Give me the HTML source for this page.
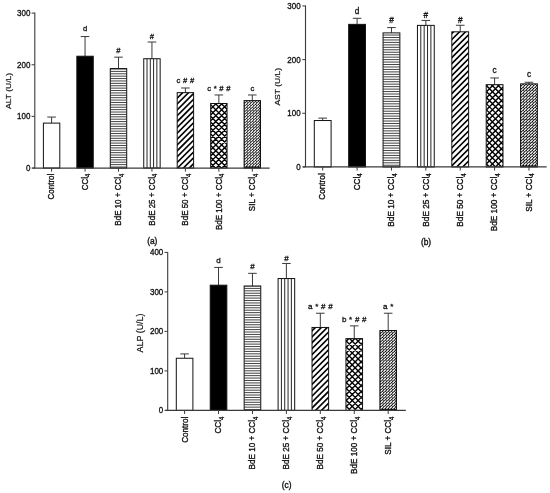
<!DOCTYPE html>
<html lang="en"><head><meta charset="utf-8"><title>Figure</title>
<style>
html,body{margin:0;padding:0;background:#fff;}
body{width:550px;height:493px;overflow:hidden;}
svg{display:block;}
text{font-family:"Liberation Sans",Arial,sans-serif;fill:#111;stroke:#111;stroke-width:0.35px;}
</style></head><body>
<svg width="550" height="493" viewBox="0 0 550 493">
<rect width="550" height="493" fill="#fff"/>

<g id="chart-a">
<path d="M51.6 123.11V117.07M47.3 117.07H55.9" stroke="#3a3a3a" stroke-width="1" fill="none"/>
<rect x="43.4" y="123.11" width="16.4" height="44.94" fill="white" stroke="#111" stroke-width="1"/>
<path d="M51.6 168.05V171.65" stroke="#3a3a3a" stroke-width="1"/>
<text transform="translate(54.3 173.75) rotate(-90) scale(0.86 1)" font-size="9.3" text-anchor="end">Control</text>
<path d="M85.05 56.23V36.55M80.75 36.55H89.35" stroke="#3a3a3a" stroke-width="1" fill="none"/>
<rect x="76.85" y="56.23" width="16.4" height="111.82" fill="black" stroke="#111" stroke-width="1"/>
<text transform="translate(85.05 31.25)" font-size="7.7" text-anchor="middle" xml:space="preserve" style="word-spacing:0.5px;stroke-width:0.3px">d</text>
<path d="M85.05 168.05V171.65" stroke="#3a3a3a" stroke-width="1"/>
<text transform="translate(87.75 173.75) rotate(-90) scale(0.86 1)" font-size="9.3" text-anchor="end">CCl<tspan dy="2.6" font-size="6.9">4</tspan></text>
<path d="M118.5 68.57V57.16M114.2 57.16H122.8" stroke="#3a3a3a" stroke-width="1" fill="none"/>
<clipPath id="c1"><rect x="110.3" y="68.57" width="16.4" height="99.48"/></clipPath>
<g clip-path="url(#c1)"><path d="M110.3 69.01H126.7M110.3 71.4H126.7M110.3 73.79H126.7M110.3 76.18H126.7M110.3 78.57H126.7M110.3 80.96H126.7M110.3 83.35H126.7M110.3 85.74H126.7M110.3 88.13H126.7M110.3 90.52H126.7M110.3 92.91H126.7M110.3 95.3H126.7M110.3 97.69H126.7M110.3 100.08H126.7M110.3 102.47H126.7M110.3 104.86H126.7M110.3 107.25H126.7M110.3 109.64H126.7M110.3 112.03H126.7M110.3 114.42H126.7M110.3 116.81H126.7M110.3 119.2H126.7M110.3 121.59H126.7M110.3 123.98H126.7M110.3 126.37H126.7M110.3 128.76H126.7M110.3 131.15H126.7M110.3 133.54H126.7M110.3 135.93H126.7M110.3 138.32H126.7M110.3 140.71H126.7M110.3 143.1H126.7M110.3 145.49H126.7M110.3 147.88H126.7M110.3 150.27H126.7M110.3 152.66H126.7M110.3 155.05H126.7M110.3 157.44H126.7M110.3 159.83H126.7M110.3 162.22H126.7M110.3 164.61H126.7M110.3 167H126.7" stroke="#222" stroke-width="0.85" fill="none"/></g>
<rect x="110.3" y="68.57" width="16.4" height="99.48" fill="none" stroke="#111" stroke-width="1"/>
<text transform="translate(118.5 53.06)" font-size="7.7" text-anchor="middle" xml:space="preserve" style="word-spacing:0.5px;stroke-width:0.3px">#</text>
<path d="M118.5 168.05V171.65" stroke="#3a3a3a" stroke-width="1"/>
<text transform="translate(121.2 173.75) rotate(-90) scale(0.86 1)" font-size="9.3" text-anchor="end">BdE 10 + CCl<tspan dy="2.6" font-size="6.9">4</tspan></text>
<path d="M151.95 58.71V42.02M147.65 42.02H156.25" stroke="#3a3a3a" stroke-width="1" fill="none"/>
<clipPath id="c2"><rect x="143.75" y="58.71" width="16.4" height="109.34"/></clipPath>
<g clip-path="url(#c2)"><path d="M147.03 58.71V168.05M150.31 58.71V168.05M153.59 58.71V168.05M156.87 58.71V168.05" stroke="#1a1a1a" stroke-width="0.95" fill="none"/></g>
<rect x="143.75" y="58.71" width="16.4" height="109.34" fill="none" stroke="#111" stroke-width="1"/>
<text transform="translate(151.95 39.32)" font-size="7.7" text-anchor="middle" xml:space="preserve" style="word-spacing:0.5px;stroke-width:0.3px">#</text>
<path d="M151.95 168.05V171.65" stroke="#3a3a3a" stroke-width="1"/>
<text transform="translate(154.65 173.75) rotate(-90) scale(0.86 1)" font-size="9.3" text-anchor="end">BdE 25 + CCl<tspan dy="2.6" font-size="6.9">4</tspan></text>
<path d="M185.4 92.64V87.99M181.1 87.99H189.7" stroke="#3a3a3a" stroke-width="1" fill="none"/>
<clipPath id="c3"><rect x="177.2" y="92.64" width="16.4" height="75.41"/></clipPath>
<g clip-path="url(#c3)"><path d="M176.2 93.3L194.6 74.9M176.2 99.15L194.6 80.75M176.2 105L194.6 86.6M176.2 110.85L194.6 92.45M176.2 116.7L194.6 98.3M176.2 122.55L194.6 104.15M176.2 128.4L194.6 110M176.2 134.25L194.6 115.85M176.2 140.1L194.6 121.7M176.2 145.95L194.6 127.55M176.2 151.8L194.6 133.4M176.2 157.65L194.6 139.25M176.2 163.5L194.6 145.1M176.2 169.35L194.6 150.95M176.2 175.2L194.6 156.8M176.2 181.05L194.6 162.65M176.2 186.9L194.6 168.5" stroke="#000" stroke-width="1.6" fill="none"/></g>
<rect x="177.2" y="92.64" width="16.4" height="75.41" fill="none" stroke="#111" stroke-width="1"/>
<text transform="translate(185.4 83.09)" font-size="7.7" text-anchor="middle" xml:space="preserve" style="word-spacing:0.5px;stroke-width:0.3px">c # #</text>
<path d="M185.4 168.05V171.65" stroke="#3a3a3a" stroke-width="1"/>
<text transform="translate(188.1 173.75) rotate(-90) scale(0.86 1)" font-size="9.3" text-anchor="end">BdE 50 + CCl<tspan dy="2.6" font-size="6.9">4</tspan></text>
<path d="M218.85 103.49V94.97M214.55 94.97H223.15" stroke="#3a3a3a" stroke-width="1" fill="none"/>
<clipPath id="c4"><rect x="210.65" y="103.49" width="16.4" height="64.56"/></clipPath>
<g clip-path="url(#c4)"><path d="M209.65 104.25L228.05 85.85M209.65 110.1L228.05 91.7M209.65 115.95L228.05 97.55M209.65 121.8L228.05 103.4M209.65 127.65L228.05 109.25M209.65 133.5L228.05 115.1M209.65 139.35L228.05 120.95M209.65 145.2L228.05 126.8M209.65 151.05L228.05 132.65M209.65 156.9L228.05 138.5M209.65 162.75L228.05 144.35M209.65 168.6L228.05 150.2M209.65 174.45L228.05 156.05M209.65 180.3L228.05 161.9M209.65 186.15L228.05 167.75M209.65 168L228.05 186.4M209.65 162.15L228.05 180.55M209.65 156.3L228.05 174.7M209.65 150.45L228.05 168.85M209.65 144.6L228.05 163M209.65 138.75L228.05 157.15M209.65 132.9L228.05 151.3M209.65 127.05L228.05 145.45M209.65 121.2L228.05 139.6M209.65 115.35L228.05 133.75M209.65 109.5L228.05 127.9M209.65 103.65L228.05 122.05M209.65 97.8L228.05 116.2M209.65 91.95L228.05 110.35M209.65 86.1L228.05 104.5M209.65 80.25L228.05 98.65" stroke="#000" stroke-width="1.4" fill="none"/></g>
<rect x="210.65" y="103.49" width="16.4" height="64.56" fill="none" stroke="#111" stroke-width="1"/>
<text transform="translate(218.85 91.47)" font-size="7.7" text-anchor="middle" xml:space="preserve" style="word-spacing:0.5px;stroke-width:0.3px">c * # #</text>
<path d="M218.85 168.05V171.65" stroke="#3a3a3a" stroke-width="1"/>
<text transform="translate(221.55 173.75) rotate(-90) scale(0.86 1)" font-size="9.3" text-anchor="end">BdE 100 + CCl<tspan dy="2.6" font-size="6.9">4</tspan></text>
<path d="M252.3 100.6V94.97M248 94.97H256.6" stroke="#3a3a3a" stroke-width="1" fill="none"/>
<clipPath id="c5"><rect x="244.1" y="100.6" width="16.4" height="67.45"/></clipPath>
<g clip-path="url(#c5)"><rect x="244.1" y="100.6" width="16.4" height="67.45" fill="#111"/><path d="M245.05 166.05l1.7 -1.7M248 166.05l1.7 -1.7M250.95 166.05l1.7 -1.7M253.9 166.05l1.7 -1.7M256.85 166.05l1.7 -1.7M259.8 166.05l1.7 -1.7M245.05 163.25l1.7 -1.7M248 163.25l1.7 -1.7M250.95 163.25l1.7 -1.7M253.9 163.25l1.7 -1.7M256.85 163.25l1.7 -1.7M259.8 163.25l1.7 -1.7M245.05 160.45l1.7 -1.7M248 160.45l1.7 -1.7M250.95 160.45l1.7 -1.7M253.9 160.45l1.7 -1.7M256.85 160.45l1.7 -1.7M259.8 160.45l1.7 -1.7M245.05 157.65l1.7 -1.7M248 157.65l1.7 -1.7M250.95 157.65l1.7 -1.7M253.9 157.65l1.7 -1.7M256.85 157.65l1.7 -1.7M259.8 157.65l1.7 -1.7M245.05 154.85l1.7 -1.7M248 154.85l1.7 -1.7M250.95 154.85l1.7 -1.7M253.9 154.85l1.7 -1.7M256.85 154.85l1.7 -1.7M259.8 154.85l1.7 -1.7M245.05 152.05l1.7 -1.7M248 152.05l1.7 -1.7M250.95 152.05l1.7 -1.7M253.9 152.05l1.7 -1.7M256.85 152.05l1.7 -1.7M259.8 152.05l1.7 -1.7M245.05 149.25l1.7 -1.7M248 149.25l1.7 -1.7M250.95 149.25l1.7 -1.7M253.9 149.25l1.7 -1.7M256.85 149.25l1.7 -1.7M259.8 149.25l1.7 -1.7M245.05 146.45l1.7 -1.7M248 146.45l1.7 -1.7M250.95 146.45l1.7 -1.7M253.9 146.45l1.7 -1.7M256.85 146.45l1.7 -1.7M259.8 146.45l1.7 -1.7M245.05 143.65l1.7 -1.7M248 143.65l1.7 -1.7M250.95 143.65l1.7 -1.7M253.9 143.65l1.7 -1.7M256.85 143.65l1.7 -1.7M259.8 143.65l1.7 -1.7M245.05 140.85l1.7 -1.7M248 140.85l1.7 -1.7M250.95 140.85l1.7 -1.7M253.9 140.85l1.7 -1.7M256.85 140.85l1.7 -1.7M259.8 140.85l1.7 -1.7M245.05 138.05l1.7 -1.7M248 138.05l1.7 -1.7M250.95 138.05l1.7 -1.7M253.9 138.05l1.7 -1.7M256.85 138.05l1.7 -1.7M259.8 138.05l1.7 -1.7M245.05 135.25l1.7 -1.7M248 135.25l1.7 -1.7M250.95 135.25l1.7 -1.7M253.9 135.25l1.7 -1.7M256.85 135.25l1.7 -1.7M259.8 135.25l1.7 -1.7M245.05 132.45l1.7 -1.7M248 132.45l1.7 -1.7M250.95 132.45l1.7 -1.7M253.9 132.45l1.7 -1.7M256.85 132.45l1.7 -1.7M259.8 132.45l1.7 -1.7M245.05 129.65l1.7 -1.7M248 129.65l1.7 -1.7M250.95 129.65l1.7 -1.7M253.9 129.65l1.7 -1.7M256.85 129.65l1.7 -1.7M259.8 129.65l1.7 -1.7M245.05 126.85l1.7 -1.7M248 126.85l1.7 -1.7M250.95 126.85l1.7 -1.7M253.9 126.85l1.7 -1.7M256.85 126.85l1.7 -1.7M259.8 126.85l1.7 -1.7M245.05 124.05l1.7 -1.7M248 124.05l1.7 -1.7M250.95 124.05l1.7 -1.7M253.9 124.05l1.7 -1.7M256.85 124.05l1.7 -1.7M259.8 124.05l1.7 -1.7M245.05 121.25l1.7 -1.7M248 121.25l1.7 -1.7M250.95 121.25l1.7 -1.7M253.9 121.25l1.7 -1.7M256.85 121.25l1.7 -1.7M259.8 121.25l1.7 -1.7M245.05 118.45l1.7 -1.7M248 118.45l1.7 -1.7M250.95 118.45l1.7 -1.7M253.9 118.45l1.7 -1.7M256.85 118.45l1.7 -1.7M259.8 118.45l1.7 -1.7M245.05 115.65l1.7 -1.7M248 115.65l1.7 -1.7M250.95 115.65l1.7 -1.7M253.9 115.65l1.7 -1.7M256.85 115.65l1.7 -1.7M259.8 115.65l1.7 -1.7M245.05 112.85l1.7 -1.7M248 112.85l1.7 -1.7M250.95 112.85l1.7 -1.7M253.9 112.85l1.7 -1.7M256.85 112.85l1.7 -1.7M259.8 112.85l1.7 -1.7M245.05 110.05l1.7 -1.7M248 110.05l1.7 -1.7M250.95 110.05l1.7 -1.7M253.9 110.05l1.7 -1.7M256.85 110.05l1.7 -1.7M259.8 110.05l1.7 -1.7M245.05 107.25l1.7 -1.7M248 107.25l1.7 -1.7M250.95 107.25l1.7 -1.7M253.9 107.25l1.7 -1.7M256.85 107.25l1.7 -1.7M259.8 107.25l1.7 -1.7M245.05 104.45l1.7 -1.7M248 104.45l1.7 -1.7M250.95 104.45l1.7 -1.7M253.9 104.45l1.7 -1.7M256.85 104.45l1.7 -1.7M259.8 104.45l1.7 -1.7M245.05 101.65l1.7 -1.7M248 101.65l1.7 -1.7M250.95 101.65l1.7 -1.7M253.9 101.65l1.7 -1.7M256.85 101.65l1.7 -1.7M259.8 101.65l1.7 -1.7" stroke="#fff" stroke-width="1.25" stroke-linecap="round" fill="none"/></g>
<rect x="244.1" y="100.6" width="16.4" height="67.45" fill="none" stroke="#111" stroke-width="1"/>
<text transform="translate(252.3 90.67)" font-size="7.7" text-anchor="middle" xml:space="preserve" style="word-spacing:0.5px;stroke-width:0.3px">c</text>
<path d="M252.3 168.05V171.65" stroke="#3a3a3a" stroke-width="1"/>
<text transform="translate(255 173.75) rotate(-90) scale(0.86 1)" font-size="9.3" text-anchor="end">SIL + CCl<tspan dy="2.6" font-size="6.9">4</tspan></text>
<path d="M34.8 12.6V168.05" stroke="#3a3a3a" stroke-width="1.1" fill="none"/>
<path d="M32.4 168.05H269.6" stroke="#3a3a3a" stroke-width="1.3" fill="none"/>
<path d="M31.6 168.05H34.8" stroke="#3a3a3a" stroke-width="1"/>
<text transform="translate(30.4 171.05) scale(0.86 1)" font-size="9.3" text-anchor="end">0</text>
<path d="M31.6 116.4H34.8" stroke="#3a3a3a" stroke-width="1"/>
<text transform="translate(30.4 119.4) scale(0.86 1)" font-size="9.3" text-anchor="end">100</text>
<path d="M31.6 64.75H34.8" stroke="#3a3a3a" stroke-width="1"/>
<text transform="translate(30.4 67.75) scale(0.86 1)" font-size="9.3" text-anchor="end">200</text>
<path d="M31.6 13.1H34.8" stroke="#3a3a3a" stroke-width="1"/>
<text transform="translate(30.4 16.1) scale(0.86 1)" font-size="9.3" text-anchor="end">300</text>
<text transform="translate(10.9 90.88) rotate(-90) scale(1.065 1)" font-size="8.0" text-anchor="middle" style="stroke-width:0.2px">ALT (U/L)</text>
<text transform="translate(152.3 243.7)" font-size="8.4" text-anchor="middle">(a)</text>
</g>
<g id="chart-b">
<path d="M322.7 120.53V118.11M318.4 118.11H327" stroke="#3a3a3a" stroke-width="1" fill="none"/>
<rect x="314.3" y="120.53" width="16.8" height="46.42" fill="white" stroke="#111" stroke-width="1"/>
<path d="M322.7 166.95V170.55" stroke="#3a3a3a" stroke-width="1"/>
<text transform="translate(325.4 173.25) rotate(-90) scale(0.885 1)" font-size="9.3" text-anchor="end">Control</text>
<path d="M357.08 24.36V18.29M352.78 18.29H361.38" stroke="#3a3a3a" stroke-width="1" fill="none"/>
<rect x="348.68" y="24.36" width="16.8" height="142.59" fill="black" stroke="#111" stroke-width="1"/>
<text transform="translate(357.08 13.99)" font-size="8.2" text-anchor="middle" xml:space="preserve" style="word-spacing:0.5px;stroke-width:0.3px">d</text>
<path d="M357.08 166.95V170.55" stroke="#3a3a3a" stroke-width="1"/>
<text transform="translate(359.78 173.25) rotate(-90) scale(0.885 1)" font-size="9.3" text-anchor="end">CCl<tspan dy="2.6" font-size="6.9">4</tspan></text>
<path d="M391.46 32.89V27.58M387.16 27.58H395.76" stroke="#3a3a3a" stroke-width="1" fill="none"/>
<clipPath id="c6"><rect x="383.06" y="32.89" width="16.8" height="134.06"/></clipPath>
<g clip-path="url(#c6)"><path d="M383.06 35.04H399.86M383.06 37.5H399.86M383.06 39.96H399.86M383.06 42.41H399.86M383.06 44.87H399.86M383.06 47.33H399.86M383.06 49.78H399.86M383.06 52.24H399.86M383.06 54.7H399.86M383.06 57.16H399.86M383.06 59.61H399.86M383.06 62.07H399.86M383.06 64.53H399.86M383.06 66.98H399.86M383.06 69.44H399.86M383.06 71.9H399.86M383.06 74.35H399.86M383.06 76.81H399.86M383.06 79.27H399.86M383.06 81.72H399.86M383.06 84.18H399.86M383.06 86.64H399.86M383.06 89.1H399.86M383.06 91.55H399.86M383.06 94.01H399.86M383.06 96.47H399.86M383.06 98.92H399.86M383.06 101.38H399.86M383.06 103.84H399.86M383.06 106.29H399.86M383.06 108.75H399.86M383.06 111.21H399.86M383.06 113.66H399.86M383.06 116.12H399.86M383.06 118.58H399.86M383.06 121.04H399.86M383.06 123.49H399.86M383.06 125.95H399.86M383.06 128.41H399.86M383.06 130.86H399.86M383.06 133.32H399.86M383.06 135.78H399.86M383.06 138.23H399.86M383.06 140.69H399.86M383.06 143.15H399.86M383.06 145.6H399.86M383.06 148.06H399.86M383.06 150.52H399.86M383.06 152.98H399.86M383.06 155.43H399.86M383.06 157.89H399.86M383.06 160.35H399.86M383.06 162.8H399.86M383.06 165.26H399.86" stroke="#222" stroke-width="0.85" fill="none"/></g>
<rect x="383.06" y="32.89" width="16.8" height="134.06" fill="none" stroke="#111" stroke-width="1"/>
<text transform="translate(391.46 23.28)" font-size="8.2" text-anchor="middle" xml:space="preserve" style="word-spacing:0.5px;stroke-width:0.3px">#</text>
<path d="M391.46 166.95V170.55" stroke="#3a3a3a" stroke-width="1"/>
<text transform="translate(394.16 173.25) rotate(-90) scale(0.885 1)" font-size="9.3" text-anchor="end">BdE 10 + CCl<tspan dy="2.6" font-size="6.9">4</tspan></text>
<path d="M425.84 25.38V20.44M421.54 20.44H430.14" stroke="#3a3a3a" stroke-width="1" fill="none"/>
<clipPath id="c7"><rect x="417.44" y="25.38" width="16.8" height="141.57"/></clipPath>
<g clip-path="url(#c7)"><path d="M420.8 25.38V166.95M424.16 25.38V166.95M427.52 25.38V166.95M430.88 25.38V166.95" stroke="#1a1a1a" stroke-width="0.95" fill="none"/></g>
<rect x="417.44" y="25.38" width="16.8" height="141.57" fill="none" stroke="#111" stroke-width="1"/>
<text transform="translate(425.84 17.94)" font-size="8.2" text-anchor="middle" xml:space="preserve" style="word-spacing:0.5px;stroke-width:0.3px">#</text>
<path d="M425.84 166.95V170.55" stroke="#3a3a3a" stroke-width="1"/>
<text transform="translate(428.54 173.25) rotate(-90) scale(0.885 1)" font-size="9.3" text-anchor="end">BdE 25 + CCl<tspan dy="2.6" font-size="6.9">4</tspan></text>
<path d="M460.22 31.82V25.27M455.92 25.27H464.52" stroke="#3a3a3a" stroke-width="1" fill="none"/>
<clipPath id="c8"><rect x="451.82" y="31.82" width="16.8" height="135.13"/></clipPath>
<g clip-path="url(#c8)"><path d="M450.82 28.51L469.62 9.71M450.82 34.52L469.62 15.72M450.82 40.54L469.62 21.74M450.82 46.55L469.62 27.75M450.82 52.56L469.62 33.76M450.82 58.58L469.62 39.78M450.82 64.59L469.62 45.79M450.82 70.6L469.62 51.8M450.82 76.62L469.62 57.82M450.82 82.63L469.62 63.83M450.82 88.65L469.62 69.85M450.82 94.66L469.62 75.86M450.82 100.67L469.62 81.87M450.82 106.69L469.62 87.89M450.82 112.7L469.62 93.9M450.82 118.71L469.62 99.91M450.82 124.73L469.62 105.93M450.82 130.74L469.62 111.94M450.82 136.76L469.62 117.96M450.82 142.77L469.62 123.97M450.82 148.78L469.62 129.98M450.82 154.8L469.62 136M450.82 160.81L469.62 142.01M450.82 166.83L469.62 148.03M450.82 172.84L469.62 154.04M450.82 178.85L469.62 160.05M450.82 184.87L469.62 166.07" stroke="#000" stroke-width="1.6" fill="none"/></g>
<rect x="451.82" y="31.82" width="16.8" height="135.13" fill="none" stroke="#111" stroke-width="1"/>
<text transform="translate(460.22 22.77)" font-size="8.2" text-anchor="middle" xml:space="preserve" style="word-spacing:0.5px;stroke-width:0.3px">#</text>
<path d="M460.22 166.95V170.55" stroke="#3a3a3a" stroke-width="1"/>
<text transform="translate(462.92 173.25) rotate(-90) scale(0.885 1)" font-size="9.3" text-anchor="end">BdE 50 + CCl<tspan dy="2.6" font-size="6.9">4</tspan></text>
<path d="M494.6 84.68V77.97M490.3 77.97H498.9" stroke="#3a3a3a" stroke-width="1" fill="none"/>
<clipPath id="c9"><rect x="486.2" y="84.68" width="16.8" height="82.27"/></clipPath>
<g clip-path="url(#c9)"><path d="M485.2 80.95L504 62.15M485.2 86.97L504 68.17M485.2 92.98L504 74.18M485.2 98.99L504 80.19M485.2 105.01L504 86.21M485.2 111.02L504 92.22M485.2 117.03L504 98.23M485.2 123.05L504 104.25M485.2 129.06L504 110.26M485.2 135.08L504 116.28M485.2 141.09L504 122.29M485.2 147.1L504 128.3M485.2 153.12L504 134.32M485.2 159.13L504 140.33M485.2 165.15L504 146.35M485.2 171.16L504 152.36M485.2 177.17L504 158.37M485.2 183.19L504 164.39M485.2 189.2L504 170.4M485.2 168.72L504 187.52M485.2 162.7L504 181.5M485.2 156.69L504 175.49M485.2 150.68L504 169.48M485.2 144.66L504 163.46M485.2 138.65L504 157.45M485.2 132.63L504 151.43M485.2 126.62L504 145.42M485.2 120.61L504 139.41M485.2 114.59L504 133.39M485.2 108.58L504 127.38M485.2 102.57L504 121.37M485.2 96.55L504 115.35M485.2 90.54L504 109.34M485.2 84.52L504 103.32M485.2 78.51L504 97.31M485.2 72.5L504 91.3M485.2 66.48L504 85.28" stroke="#000" stroke-width="1.4" fill="none"/></g>
<rect x="486.2" y="84.68" width="16.8" height="82.27" fill="none" stroke="#111" stroke-width="1"/>
<text transform="translate(494.6 72.67)" font-size="8.2" text-anchor="middle" xml:space="preserve" style="word-spacing:0.5px;stroke-width:0.3px">c</text>
<path d="M494.6 166.95V170.55" stroke="#3a3a3a" stroke-width="1"/>
<text transform="translate(497.3 173.25) rotate(-90) scale(0.885 1)" font-size="9.3" text-anchor="end">BdE 100 + CCl<tspan dy="2.6" font-size="6.9">4</tspan></text>
<path d="M528.98 83.87V82.26M524.68 82.26H533.28" stroke="#3a3a3a" stroke-width="1" fill="none"/>
<clipPath id="c10"><rect x="520.58" y="83.87" width="16.8" height="83.08"/></clipPath>
<g clip-path="url(#c10)"><rect x="520.58" y="83.87" width="16.8" height="83.08" fill="#111"/><path d="M521.53 164.95l1.7 -1.7M524.56 164.95l1.7 -1.7M527.6 164.95l1.7 -1.7M530.63 164.95l1.7 -1.7M533.66 164.95l1.7 -1.7M536.69 164.95l1.7 -1.7M521.53 162.07l1.7 -1.7M524.56 162.07l1.7 -1.7M527.6 162.07l1.7 -1.7M530.63 162.07l1.7 -1.7M533.66 162.07l1.7 -1.7M536.69 162.07l1.7 -1.7M521.53 159.19l1.7 -1.7M524.56 159.19l1.7 -1.7M527.6 159.19l1.7 -1.7M530.63 159.19l1.7 -1.7M533.66 159.19l1.7 -1.7M536.69 159.19l1.7 -1.7M521.53 156.31l1.7 -1.7M524.56 156.31l1.7 -1.7M527.6 156.31l1.7 -1.7M530.63 156.31l1.7 -1.7M533.66 156.31l1.7 -1.7M536.69 156.31l1.7 -1.7M521.53 153.44l1.7 -1.7M524.56 153.44l1.7 -1.7M527.6 153.44l1.7 -1.7M530.63 153.44l1.7 -1.7M533.66 153.44l1.7 -1.7M536.69 153.44l1.7 -1.7M521.53 150.56l1.7 -1.7M524.56 150.56l1.7 -1.7M527.6 150.56l1.7 -1.7M530.63 150.56l1.7 -1.7M533.66 150.56l1.7 -1.7M536.69 150.56l1.7 -1.7M521.53 147.68l1.7 -1.7M524.56 147.68l1.7 -1.7M527.6 147.68l1.7 -1.7M530.63 147.68l1.7 -1.7M533.66 147.68l1.7 -1.7M536.69 147.68l1.7 -1.7M521.53 144.8l1.7 -1.7M524.56 144.8l1.7 -1.7M527.6 144.8l1.7 -1.7M530.63 144.8l1.7 -1.7M533.66 144.8l1.7 -1.7M536.69 144.8l1.7 -1.7M521.53 141.92l1.7 -1.7M524.56 141.92l1.7 -1.7M527.6 141.92l1.7 -1.7M530.63 141.92l1.7 -1.7M533.66 141.92l1.7 -1.7M536.69 141.92l1.7 -1.7M521.53 139.04l1.7 -1.7M524.56 139.04l1.7 -1.7M527.6 139.04l1.7 -1.7M530.63 139.04l1.7 -1.7M533.66 139.04l1.7 -1.7M536.69 139.04l1.7 -1.7M521.53 136.17l1.7 -1.7M524.56 136.17l1.7 -1.7M527.6 136.17l1.7 -1.7M530.63 136.17l1.7 -1.7M533.66 136.17l1.7 -1.7M536.69 136.17l1.7 -1.7M521.53 133.29l1.7 -1.7M524.56 133.29l1.7 -1.7M527.6 133.29l1.7 -1.7M530.63 133.29l1.7 -1.7M533.66 133.29l1.7 -1.7M536.69 133.29l1.7 -1.7M521.53 130.41l1.7 -1.7M524.56 130.41l1.7 -1.7M527.6 130.41l1.7 -1.7M530.63 130.41l1.7 -1.7M533.66 130.41l1.7 -1.7M536.69 130.41l1.7 -1.7M521.53 127.53l1.7 -1.7M524.56 127.53l1.7 -1.7M527.6 127.53l1.7 -1.7M530.63 127.53l1.7 -1.7M533.66 127.53l1.7 -1.7M536.69 127.53l1.7 -1.7M521.53 124.65l1.7 -1.7M524.56 124.65l1.7 -1.7M527.6 124.65l1.7 -1.7M530.63 124.65l1.7 -1.7M533.66 124.65l1.7 -1.7M536.69 124.65l1.7 -1.7M521.53 121.77l1.7 -1.7M524.56 121.77l1.7 -1.7M527.6 121.77l1.7 -1.7M530.63 121.77l1.7 -1.7M533.66 121.77l1.7 -1.7M536.69 121.77l1.7 -1.7M521.53 118.9l1.7 -1.7M524.56 118.9l1.7 -1.7M527.6 118.9l1.7 -1.7M530.63 118.9l1.7 -1.7M533.66 118.9l1.7 -1.7M536.69 118.9l1.7 -1.7M521.53 116.02l1.7 -1.7M524.56 116.02l1.7 -1.7M527.6 116.02l1.7 -1.7M530.63 116.02l1.7 -1.7M533.66 116.02l1.7 -1.7M536.69 116.02l1.7 -1.7M521.53 113.14l1.7 -1.7M524.56 113.14l1.7 -1.7M527.6 113.14l1.7 -1.7M530.63 113.14l1.7 -1.7M533.66 113.14l1.7 -1.7M536.69 113.14l1.7 -1.7M521.53 110.26l1.7 -1.7M524.56 110.26l1.7 -1.7M527.6 110.26l1.7 -1.7M530.63 110.26l1.7 -1.7M533.66 110.26l1.7 -1.7M536.69 110.26l1.7 -1.7M521.53 107.38l1.7 -1.7M524.56 107.38l1.7 -1.7M527.6 107.38l1.7 -1.7M530.63 107.38l1.7 -1.7M533.66 107.38l1.7 -1.7M536.69 107.38l1.7 -1.7M521.53 104.5l1.7 -1.7M524.56 104.5l1.7 -1.7M527.6 104.5l1.7 -1.7M530.63 104.5l1.7 -1.7M533.66 104.5l1.7 -1.7M536.69 104.5l1.7 -1.7M521.53 101.63l1.7 -1.7M524.56 101.63l1.7 -1.7M527.6 101.63l1.7 -1.7M530.63 101.63l1.7 -1.7M533.66 101.63l1.7 -1.7M536.69 101.63l1.7 -1.7M521.53 98.75l1.7 -1.7M524.56 98.75l1.7 -1.7M527.6 98.75l1.7 -1.7M530.63 98.75l1.7 -1.7M533.66 98.75l1.7 -1.7M536.69 98.75l1.7 -1.7M521.53 95.87l1.7 -1.7M524.56 95.87l1.7 -1.7M527.6 95.87l1.7 -1.7M530.63 95.87l1.7 -1.7M533.66 95.87l1.7 -1.7M536.69 95.87l1.7 -1.7M521.53 92.99l1.7 -1.7M524.56 92.99l1.7 -1.7M527.6 92.99l1.7 -1.7M530.63 92.99l1.7 -1.7M533.66 92.99l1.7 -1.7M536.69 92.99l1.7 -1.7M521.53 90.11l1.7 -1.7M524.56 90.11l1.7 -1.7M527.6 90.11l1.7 -1.7M530.63 90.11l1.7 -1.7M533.66 90.11l1.7 -1.7M536.69 90.11l1.7 -1.7M521.53 87.23l1.7 -1.7M524.56 87.23l1.7 -1.7M527.6 87.23l1.7 -1.7M530.63 87.23l1.7 -1.7M533.66 87.23l1.7 -1.7M536.69 87.23l1.7 -1.7M521.53 84.35l1.7 -1.7M524.56 84.35l1.7 -1.7M527.6 84.35l1.7 -1.7M530.63 84.35l1.7 -1.7M533.66 84.35l1.7 -1.7M536.69 84.35l1.7 -1.7" stroke="#fff" stroke-width="1.25" stroke-linecap="round" fill="none"/></g>
<rect x="520.58" y="83.87" width="16.8" height="83.08" fill="none" stroke="#111" stroke-width="1"/>
<text transform="translate(528.98 76.76)" font-size="8.2" text-anchor="middle" xml:space="preserve" style="word-spacing:0.5px;stroke-width:0.3px">c</text>
<path d="M528.98 166.95V170.55" stroke="#3a3a3a" stroke-width="1"/>
<text transform="translate(531.68 173.25) rotate(-90) scale(0.885 1)" font-size="9.3" text-anchor="end">SIL + CCl<tspan dy="2.6" font-size="6.9">4</tspan></text>
<path d="M305.5 5.45V166.95" stroke="#3a3a3a" stroke-width="1.1" fill="none"/>
<path d="M303.1 166.95H546.7" stroke="#3a3a3a" stroke-width="1.3" fill="none"/>
<path d="M302.3 166.95H305.5" stroke="#3a3a3a" stroke-width="1"/>
<text transform="translate(300.7 169.85) scale(0.86 1)" font-size="9.3" text-anchor="end">0</text>
<path d="M302.3 113.28H305.5" stroke="#3a3a3a" stroke-width="1"/>
<text transform="translate(300.7 116.18) scale(0.86 1)" font-size="9.3" text-anchor="end">100</text>
<path d="M302.3 59.62H305.5" stroke="#3a3a3a" stroke-width="1"/>
<text transform="translate(300.7 62.52) scale(0.86 1)" font-size="9.3" text-anchor="end">200</text>
<path d="M302.3 5.95H305.5" stroke="#3a3a3a" stroke-width="1"/>
<text transform="translate(300.7 8.85) scale(0.86 1)" font-size="9.3" text-anchor="end">300</text>
<text transform="translate(280.3 86.75) rotate(-90) scale(1.065 1)" font-size="8.0" text-anchor="middle" style="stroke-width:0.2px">AST (U/L)</text>
<text transform="translate(426 245)" font-size="8.4" text-anchor="middle">(b)</text>
</g>
<g id="chart-c">
<path d="M184.6 358.26V353.91M180.3 353.91H188.9" stroke="#3a3a3a" stroke-width="1" fill="none"/>
<rect x="176.3" y="358.26" width="16.6" height="52.14" fill="white" stroke="#111" stroke-width="1"/>
<path d="M184.6 410.4V414" stroke="#3a3a3a" stroke-width="1"/>
<text transform="translate(187.5 416.6) rotate(-90) scale(0.875 1)" font-size="9.3" text-anchor="end">Control</text>
<path d="M218.53 285.19V267.41M214.23 267.41H222.83" stroke="#3a3a3a" stroke-width="1" fill="none"/>
<rect x="210.23" y="285.19" width="16.6" height="125.21" fill="black" stroke="#111" stroke-width="1"/>
<text transform="translate(218.53 263.11)" font-size="8.0" text-anchor="middle" xml:space="preserve" style="word-spacing:0.5px;stroke-width:0.3px">d</text>
<path d="M218.53 410.4V414" stroke="#3a3a3a" stroke-width="1"/>
<text transform="translate(221.43 416.6) rotate(-90) scale(0.875 1)" font-size="9.3" text-anchor="end">CCl<tspan dy="2.6" font-size="6.9">4</tspan></text>
<path d="M252.46 285.98V273.34M248.16 273.34H256.76" stroke="#3a3a3a" stroke-width="1" fill="none"/>
<clipPath id="c11"><rect x="244.16" y="285.98" width="16.6" height="124.42"/></clipPath>
<g clip-path="url(#c11)"><path d="M244.16 285.98H260.76M244.16 288.4H260.76M244.16 290.82H260.76M244.16 293.25H260.76M244.16 295.67H260.76M244.16 298.09H260.76M244.16 300.52H260.76M244.16 302.94H260.76M244.16 305.36H260.76M244.16 307.79H260.76M244.16 310.21H260.76M244.16 312.63H260.76M244.16 315.06H260.76M244.16 317.48H260.76M244.16 319.9H260.76M244.16 322.33H260.76M244.16 324.75H260.76M244.16 327.18H260.76M244.16 329.6H260.76M244.16 332.02H260.76M244.16 334.45H260.76M244.16 336.87H260.76M244.16 339.29H260.76M244.16 341.72H260.76M244.16 344.14H260.76M244.16 346.56H260.76M244.16 348.99H260.76M244.16 351.41H260.76M244.16 353.83H260.76M244.16 356.26H260.76M244.16 358.68H260.76M244.16 361.1H260.76M244.16 363.53H260.76M244.16 365.95H260.76M244.16 368.37H260.76M244.16 370.8H260.76M244.16 373.22H260.76M244.16 375.64H260.76M244.16 378.07H260.76M244.16 380.49H260.76M244.16 382.91H260.76M244.16 385.34H260.76M244.16 387.76H260.76M244.16 390.19H260.76M244.16 392.61H260.76M244.16 395.03H260.76M244.16 397.46H260.76M244.16 399.88H260.76M244.16 402.3H260.76M244.16 404.73H260.76M244.16 407.15H260.76M244.16 409.57H260.76" stroke="#222" stroke-width="0.85" fill="none"/></g>
<rect x="244.16" y="285.98" width="16.6" height="124.42" fill="none" stroke="#111" stroke-width="1"/>
<text transform="translate(252.46 269.04)" font-size="8.0" text-anchor="middle" xml:space="preserve" style="word-spacing:0.5px;stroke-width:0.3px">#</text>
<path d="M252.46 410.4V414" stroke="#3a3a3a" stroke-width="1"/>
<text transform="translate(255.36 416.6) rotate(-90) scale(0.875 1)" font-size="9.3" text-anchor="end">BdE 10 + CCl<tspan dy="2.6" font-size="6.9">4</tspan></text>
<path d="M286.39 278.55V263.46M282.09 263.46H290.69" stroke="#3a3a3a" stroke-width="1" fill="none"/>
<clipPath id="c12"><rect x="278.09" y="278.55" width="16.6" height="131.85"/></clipPath>
<g clip-path="url(#c12)"><path d="M281.41 278.55V410.4M284.73 278.55V410.4M288.05 278.55V410.4M291.37 278.55V410.4" stroke="#1a1a1a" stroke-width="0.95" fill="none"/></g>
<rect x="278.09" y="278.55" width="16.6" height="131.85" fill="none" stroke="#111" stroke-width="1"/>
<text transform="translate(286.39 261.36)" font-size="8.0" text-anchor="middle" xml:space="preserve" style="word-spacing:0.5px;stroke-width:0.3px">#</text>
<path d="M286.39 410.4V414" stroke="#3a3a3a" stroke-width="1"/>
<text transform="translate(289.29 416.6) rotate(-90) scale(0.875 1)" font-size="9.3" text-anchor="end">BdE 25 + CCl<tspan dy="2.6" font-size="6.9">4</tspan></text>
<path d="M320.32 327.45V313.23M316.02 313.23H324.62" stroke="#3a3a3a" stroke-width="1" fill="none"/>
<clipPath id="c13"><rect x="312.02" y="327.45" width="16.6" height="82.95"/></clipPath>
<g clip-path="url(#c13)"><path d="M311.02 325.93L329.62 307.33M311.02 331.86L329.62 313.26M311.02 337.79L329.62 319.19M311.02 343.73L329.62 325.13M311.02 349.66L329.62 331.06M311.02 355.59L329.62 336.99M311.02 361.52L329.62 342.92M311.02 367.45L329.62 348.85M311.02 373.39L329.62 354.79M311.02 379.32L329.62 360.72M311.02 385.25L329.62 366.65M311.02 391.18L329.62 372.58M311.02 397.11L329.62 378.51M311.02 403.04L329.62 384.44M311.02 408.98L329.62 390.38M311.02 414.91L329.62 396.31M311.02 420.84L329.62 402.24M311.02 426.77L329.62 408.17M311.02 432.7L329.62 414.1" stroke="#000" stroke-width="1.6" fill="none"/></g>
<rect x="312.02" y="327.45" width="16.6" height="82.95" fill="none" stroke="#111" stroke-width="1"/>
<text transform="translate(320.32 309.33)" font-size="8.0" text-anchor="middle" xml:space="preserve" style="word-spacing:0.5px;stroke-width:0.3px">a * # #</text>
<path d="M320.32 410.4V414" stroke="#3a3a3a" stroke-width="1"/>
<text transform="translate(323.22 416.6) rotate(-90) scale(0.875 1)" font-size="9.3" text-anchor="end">BdE 50 + CCl<tspan dy="2.6" font-size="6.9">4</tspan></text>
<path d="M354.25 338.59V325.87M349.95 325.87H358.55" stroke="#3a3a3a" stroke-width="1" fill="none"/>
<clipPath id="c14"><rect x="345.95" y="338.59" width="16.6" height="71.81"/></clipPath>
<g clip-path="url(#c14)"><path d="M344.95 336.56L363.55 317.96M344.95 342.5L363.55 323.9M344.95 348.43L363.55 329.83M344.95 354.36L363.55 335.76M344.95 360.29L363.55 341.69M344.95 366.22L363.55 347.62M344.95 372.16L363.55 353.56M344.95 378.09L363.55 359.49M344.95 384.02L363.55 365.42M344.95 389.95L363.55 371.35M344.95 395.88L363.55 377.28M344.95 401.81L363.55 383.21M344.95 407.75L363.55 389.15M344.95 413.68L363.55 395.08M344.95 419.61L363.55 401.01M344.95 425.54L363.55 406.94M344.95 431.47L363.55 412.87M344.95 410.98L363.55 429.58M344.95 405.04L363.55 423.64M344.95 399.11L363.55 417.71M344.95 393.18L363.55 411.78M344.95 387.25L363.55 405.85M344.95 381.32L363.55 399.92M344.95 375.38L363.55 393.98M344.95 369.45L363.55 388.05M344.95 363.52L363.55 382.12M344.95 357.59L363.55 376.19M344.95 351.66L363.55 370.26M344.95 345.72L363.55 364.32M344.95 339.79L363.55 358.39M344.95 333.86L363.55 352.46M344.95 327.93L363.55 346.53M344.95 322L363.55 340.6M344.95 316.06L363.55 334.66" stroke="#000" stroke-width="1.4" fill="none"/></g>
<rect x="345.95" y="338.59" width="16.6" height="71.81" fill="none" stroke="#111" stroke-width="1"/>
<text transform="translate(354.25 321.57)" font-size="8.0" text-anchor="middle" xml:space="preserve" style="word-spacing:0.5px;stroke-width:0.3px">b * # #</text>
<path d="M354.25 410.4V414" stroke="#3a3a3a" stroke-width="1"/>
<text transform="translate(357.15 416.6) rotate(-90) scale(0.875 1)" font-size="9.3" text-anchor="end">BdE 100 + CCl<tspan dy="2.6" font-size="6.9">4</tspan></text>
<path d="M388.18 330.49V313.23M383.88 313.23H392.48" stroke="#3a3a3a" stroke-width="1" fill="none"/>
<clipPath id="c15"><rect x="379.88" y="330.49" width="16.6" height="79.91"/></clipPath>
<g clip-path="url(#c15)"><rect x="379.88" y="330.49" width="16.6" height="79.91" fill="#111"/><path d="M380.83 408.4l1.7 -1.7M383.82 408.4l1.7 -1.7M386.81 408.4l1.7 -1.7M389.8 408.4l1.7 -1.7M392.8 408.4l1.7 -1.7M395.79 408.4l1.7 -1.7M380.83 405.56l1.7 -1.7M383.82 405.56l1.7 -1.7M386.81 405.56l1.7 -1.7M389.8 405.56l1.7 -1.7M392.8 405.56l1.7 -1.7M395.79 405.56l1.7 -1.7M380.83 402.72l1.7 -1.7M383.82 402.72l1.7 -1.7M386.81 402.72l1.7 -1.7M389.8 402.72l1.7 -1.7M392.8 402.72l1.7 -1.7M395.79 402.72l1.7 -1.7M380.83 399.88l1.7 -1.7M383.82 399.88l1.7 -1.7M386.81 399.88l1.7 -1.7M389.8 399.88l1.7 -1.7M392.8 399.88l1.7 -1.7M395.79 399.88l1.7 -1.7M380.83 397.04l1.7 -1.7M383.82 397.04l1.7 -1.7M386.81 397.04l1.7 -1.7M389.8 397.04l1.7 -1.7M392.8 397.04l1.7 -1.7M395.79 397.04l1.7 -1.7M380.83 394.2l1.7 -1.7M383.82 394.2l1.7 -1.7M386.81 394.2l1.7 -1.7M389.8 394.2l1.7 -1.7M392.8 394.2l1.7 -1.7M395.79 394.2l1.7 -1.7M380.83 391.36l1.7 -1.7M383.82 391.36l1.7 -1.7M386.81 391.36l1.7 -1.7M389.8 391.36l1.7 -1.7M392.8 391.36l1.7 -1.7M395.79 391.36l1.7 -1.7M380.83 388.53l1.7 -1.7M383.82 388.53l1.7 -1.7M386.81 388.53l1.7 -1.7M389.8 388.53l1.7 -1.7M392.8 388.53l1.7 -1.7M395.79 388.53l1.7 -1.7M380.83 385.69l1.7 -1.7M383.82 385.69l1.7 -1.7M386.81 385.69l1.7 -1.7M389.8 385.69l1.7 -1.7M392.8 385.69l1.7 -1.7M395.79 385.69l1.7 -1.7M380.83 382.85l1.7 -1.7M383.82 382.85l1.7 -1.7M386.81 382.85l1.7 -1.7M389.8 382.85l1.7 -1.7M392.8 382.85l1.7 -1.7M395.79 382.85l1.7 -1.7M380.83 380.01l1.7 -1.7M383.82 380.01l1.7 -1.7M386.81 380.01l1.7 -1.7M389.8 380.01l1.7 -1.7M392.8 380.01l1.7 -1.7M395.79 380.01l1.7 -1.7M380.83 377.17l1.7 -1.7M383.82 377.17l1.7 -1.7M386.81 377.17l1.7 -1.7M389.8 377.17l1.7 -1.7M392.8 377.17l1.7 -1.7M395.79 377.17l1.7 -1.7M380.83 374.33l1.7 -1.7M383.82 374.33l1.7 -1.7M386.81 374.33l1.7 -1.7M389.8 374.33l1.7 -1.7M392.8 374.33l1.7 -1.7M395.79 374.33l1.7 -1.7M380.83 371.49l1.7 -1.7M383.82 371.49l1.7 -1.7M386.81 371.49l1.7 -1.7M389.8 371.49l1.7 -1.7M392.8 371.49l1.7 -1.7M395.79 371.49l1.7 -1.7M380.83 368.65l1.7 -1.7M383.82 368.65l1.7 -1.7M386.81 368.65l1.7 -1.7M389.8 368.65l1.7 -1.7M392.8 368.65l1.7 -1.7M395.79 368.65l1.7 -1.7M380.83 365.81l1.7 -1.7M383.82 365.81l1.7 -1.7M386.81 365.81l1.7 -1.7M389.8 365.81l1.7 -1.7M392.8 365.81l1.7 -1.7M395.79 365.81l1.7 -1.7M380.83 362.97l1.7 -1.7M383.82 362.97l1.7 -1.7M386.81 362.97l1.7 -1.7M389.8 362.97l1.7 -1.7M392.8 362.97l1.7 -1.7M395.79 362.97l1.7 -1.7M380.83 360.13l1.7 -1.7M383.82 360.13l1.7 -1.7M386.81 360.13l1.7 -1.7M389.8 360.13l1.7 -1.7M392.8 360.13l1.7 -1.7M395.79 360.13l1.7 -1.7M380.83 357.29l1.7 -1.7M383.82 357.29l1.7 -1.7M386.81 357.29l1.7 -1.7M389.8 357.29l1.7 -1.7M392.8 357.29l1.7 -1.7M395.79 357.29l1.7 -1.7M380.83 354.46l1.7 -1.7M383.82 354.46l1.7 -1.7M386.81 354.46l1.7 -1.7M389.8 354.46l1.7 -1.7M392.8 354.46l1.7 -1.7M395.79 354.46l1.7 -1.7M380.83 351.62l1.7 -1.7M383.82 351.62l1.7 -1.7M386.81 351.62l1.7 -1.7M389.8 351.62l1.7 -1.7M392.8 351.62l1.7 -1.7M395.79 351.62l1.7 -1.7M380.83 348.78l1.7 -1.7M383.82 348.78l1.7 -1.7M386.81 348.78l1.7 -1.7M389.8 348.78l1.7 -1.7M392.8 348.78l1.7 -1.7M395.79 348.78l1.7 -1.7M380.83 345.94l1.7 -1.7M383.82 345.94l1.7 -1.7M386.81 345.94l1.7 -1.7M389.8 345.94l1.7 -1.7M392.8 345.94l1.7 -1.7M395.79 345.94l1.7 -1.7M380.83 343.1l1.7 -1.7M383.82 343.1l1.7 -1.7M386.81 343.1l1.7 -1.7M389.8 343.1l1.7 -1.7M392.8 343.1l1.7 -1.7M395.79 343.1l1.7 -1.7M380.83 340.26l1.7 -1.7M383.82 340.26l1.7 -1.7M386.81 340.26l1.7 -1.7M389.8 340.26l1.7 -1.7M392.8 340.26l1.7 -1.7M395.79 340.26l1.7 -1.7M380.83 337.42l1.7 -1.7M383.82 337.42l1.7 -1.7M386.81 337.42l1.7 -1.7M389.8 337.42l1.7 -1.7M392.8 337.42l1.7 -1.7M395.79 337.42l1.7 -1.7M380.83 334.58l1.7 -1.7M383.82 334.58l1.7 -1.7M386.81 334.58l1.7 -1.7M389.8 334.58l1.7 -1.7M392.8 334.58l1.7 -1.7M395.79 334.58l1.7 -1.7M380.83 331.74l1.7 -1.7M383.82 331.74l1.7 -1.7M386.81 331.74l1.7 -1.7M389.8 331.74l1.7 -1.7M392.8 331.74l1.7 -1.7M395.79 331.74l1.7 -1.7" stroke="#fff" stroke-width="1.25" stroke-linecap="round" fill="none"/></g>
<rect x="379.88" y="330.49" width="16.6" height="79.91" fill="none" stroke="#111" stroke-width="1"/>
<text transform="translate(388.18 308.93)" font-size="8.0" text-anchor="middle" xml:space="preserve" style="word-spacing:0.5px;stroke-width:0.3px">a *</text>
<path d="M388.18 410.4V414" stroke="#3a3a3a" stroke-width="1"/>
<text transform="translate(391.08 416.6) rotate(-90) scale(0.875 1)" font-size="9.3" text-anchor="end">SIL + CCl<tspan dy="2.6" font-size="6.9">4</tspan></text>
<path d="M167.7 251.9V410.4" stroke="#3a3a3a" stroke-width="1.1" fill="none"/>
<path d="M165.3 410.4H405.8" stroke="#3a3a3a" stroke-width="1.3" fill="none"/>
<path d="M164.5 410.4H167.7" stroke="#3a3a3a" stroke-width="1"/>
<text transform="translate(163.3 413.1) scale(0.86 1)" font-size="9.3" text-anchor="end">0</text>
<path d="M164.5 370.9H167.7" stroke="#3a3a3a" stroke-width="1"/>
<text transform="translate(163.3 373.6) scale(0.86 1)" font-size="9.3" text-anchor="end">100</text>
<path d="M164.5 331.4H167.7" stroke="#3a3a3a" stroke-width="1"/>
<text transform="translate(163.3 334.1) scale(0.86 1)" font-size="9.3" text-anchor="end">200</text>
<path d="M164.5 291.9H167.7" stroke="#3a3a3a" stroke-width="1"/>
<text transform="translate(163.3 294.6) scale(0.86 1)" font-size="9.3" text-anchor="end">300</text>
<path d="M164.5 252.4H167.7" stroke="#3a3a3a" stroke-width="1"/>
<text transform="translate(163.3 255.1) scale(0.86 1)" font-size="9.3" text-anchor="end">400</text>
<text transform="translate(142.6 333) rotate(-90) scale(1.065 1)" font-size="8.4" text-anchor="middle" style="stroke-width:0.2px">ALP (U/L)</text>
<text transform="translate(286.7 488)" font-size="8.4" text-anchor="middle">(c)</text>
</g>
</svg>
</body></html>
